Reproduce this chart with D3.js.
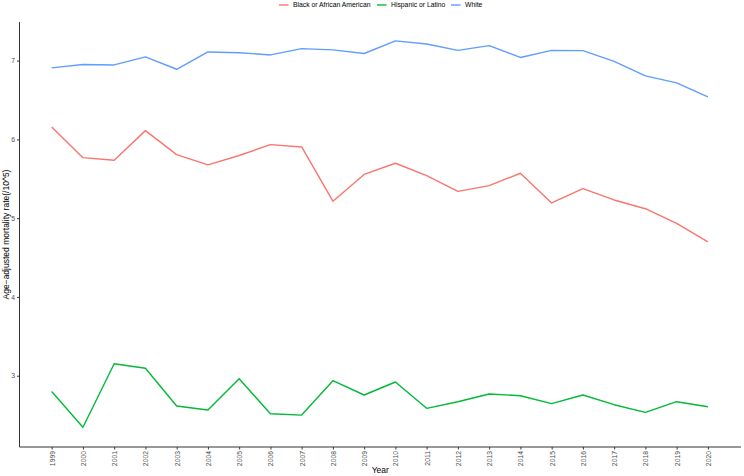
<!DOCTYPE html>
<html><head><meta charset="utf-8">
<script src="https://cdn.jsdelivr.net/npm/d3@7"></script>
<style>body{margin:0;background:#fff}svg{display:block;font-family:"Liberation Sans",Arial,sans-serif}</style>
</head><body><svg id="c" width="744" height="476"></svg>
<script>
const years = d3.range(1999, 2021);
const seriesNames = ["Black or African American", "Hispanic or Latino", "White"];
const seriesColors = ["#F8766D", "#00BA38", "#619CFF"];
const black = [6.158,5.768,5.735,6.111,5.806,5.676,5.795,5.933,5.904,5.215,5.555,5.697,5.54,5.34,5.413,5.57,5.193,5.375,5.231,5.12,4.935,4.70];
const hispanic = [2.80,2.345,3.152,3.094,2.615,2.564,2.962,2.517,2.50,2.937,2.755,2.92,2.586,2.67,2.768,2.746,2.645,2.755,2.632,2.535,2.67,2.606];
const white = [6.907,6.95,6.945,7.047,6.89,7.11,7.10,7.072,7.152,7.136,7.09,7.25,7.21,7.13,7.19,7.04,7.13,7.127,6.99,6.806,6.717,6.54];
const yTicks = [3,4,5,6,7];
const values = [black, hispanic, white];

const L = 19.5, R = 741, T = 22, B = 447;
const svg = d3.select("#c");
const x = d3.scaleLinear().domain([1997.97, 2021.06]).range([L, R]);
const y = d3.scaleLinear().domain([2.095, 7.49]).range([B, T]);

// lines
const line = d3.line().x((d,i)=>x(years[i])).y(d=>y(d));
values.forEach((v,k)=>{
  svg.append("path").datum(v).attr("d", line).attr("fill","none")
    .attr("stroke", seriesColors[k]).attr("stroke-width",1.4).attr("stroke-linejoin","round");
});

// axes
const xa = svg.append("g").attr("transform",`translate(0,${B})`)
  .call(d3.axisBottom(x).tickValues(years).tickFormat(d3.format("d")).tickSize(2.5).tickPadding(2).tickSizeOuter(0));
xa.select(".domain").attr("stroke","#333").attr("d",`M${L},0H${R}`);
xa.selectAll(".tick line").attr("stroke","#333");
xa.selectAll(".tick text").attr("fill","#4D4D4D").attr("font-size",6.8)
  .attr("transform","rotate(-90)").attr("text-anchor","end").attr("dy","0.35em").attr("x",-4).attr("y",0);

const ya = svg.append("g").attr("transform",`translate(${L},0)`)
  .call(d3.axisLeft(y).tickValues(yTicks).tickFormat(d3.format("d")).tickSize(2.5).tickPadding(2).tickSizeOuter(0));
ya.select(".domain").attr("stroke","#333").attr("d",`M0,${T}V${B}`);
ya.selectAll(".tick line").attr("stroke","#333");
ya.selectAll(".tick text").attr("fill","#4D4D4D").attr("font-size",6.8);
svg.selectAll(".domain, .tick line").attr("stroke-width",1);
svg.selectAll(".tick text").attr("font-family",'"Liberation Sans",Arial,sans-serif');

// titles
svg.append("text").attr("x",(L+R)/2).attr("y",473).attr("text-anchor","middle")
  .attr("font-size",8.5).attr("fill","#000").text("Year");
svg.append("text").attr("transform",`translate(8.5,${(T+B)/2}) rotate(-90)`).attr("text-anchor","middle")
  .attr("font-size",8.5).attr("fill","#000").text("Age\u2212adjusted mortality rate(/10^5)");

// legend
const legX = [279, 377, 451];
seriesNames.forEach((n,k)=>{
  const g = svg.append("g").attr("transform",`translate(${legX[k]},5)`);
  g.append("line").attr("x1",0).attr("x2",9.5).attr("y1",0).attr("y2",0).attr("stroke",seriesColors[k]).attr("stroke-width",1.4);
  g.append("text").attr("x",14).attr("y",0).attr("dy","0.35em").attr("font-size",6.8).attr("fill","#000").text(n);
});
</script></body></html>
